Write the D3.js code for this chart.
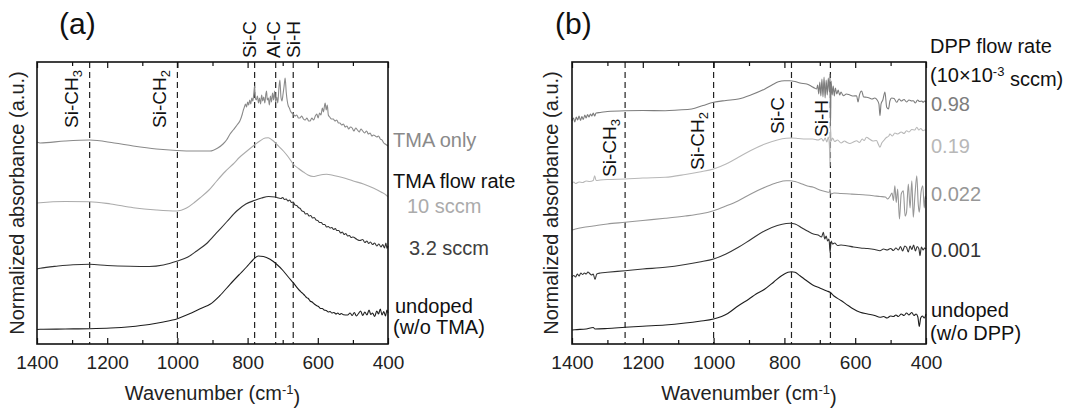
<!DOCTYPE html>
<html>
<head>
<meta charset="utf-8">
<script src="https://cdn.jsdelivr.net/npm/d3@7"></script>
<style>
  html, body { margin: 0; padding: 0; background: #fff; }
  svg { display: block; }
</style>
</head>
<body>
<svg id="chart" width="1072" height="410"></svg>
<script>
// ---------------- DATA ----------------
// x ticks (wavenumber, cm-1)
const majorTicks = [1400, 1200, 1000, 800, 600, 400];
const minorTicks = [1300, 1100, 900, 700, 500];

// vibration-mode marker positions (cm-1)
const markersA = [
  { name: "Si-CH", sub: "3", wn: 1250 },
  { name: "Si-CH", sub: "2", wn: 1000 },
  { name: "Si-C", sub: "", wn: 780 },
  { name: "Al-C", sub: "", wn: 720 },
  { name: "Si-H", sub: "", wn: 670 }
];
const markersB = [
  { name: "Si-CH", sub: "3", wn: 1250 },
  { name: "Si-CH", sub: "2", wn: 1000 },
  { name: "Si-C", sub: "", wn: 780 },
  { name: "Si-H", sub: "", wn: 670 }
];

// Panel (a) spectra: [wavenumber, normalized absorbance (a.u., offset)]
const aTmaOnly = [[1400,202],[1391,201],[1320,203],[1250,204],[1180,201],[1126,198],[1060,195],[1002,193.5],[950,193],[907,193],[885,196],[870,200],[860,204],[850,210],[841,214],[830,219],[822,223],[815,230],[812,234],
[810,236],[806,240],[803,237],[800,242],[797,239],[794,244],[791,240],[788,246],[785,243],[782,252],[780,258],[778,246],[775,244],[772,248],[769,241],[766,246],[763,240],[760,249],[757,243],[754,247],[751,241],[748,250],[746,253],[744,244],[741,246],[738,239],[735,248],[732,242],[729,251],[726,244],[723,253],[720,242],[717,247],[714,241],[711,255],[708,264],[705,247],[702,243],[699,250],[696,258],[693,266],[690,252],[687,243],[684,238],[681,236],[678,233],[674,231],[670,230],[665,228],[660,229],[655,226],[651,226],[646,228],[641,225],[636,224],[631,226],[626,223],[622,223],[617,226],[612,224],[607,228],[603,230],[599,226],[595,231],[591,229],[587,236],[584,232],[581,238],[579,241],[576,234],[573,239],[570,229],[566,227],[561,225],[556,225],[551,223],[546,224],[541,221],[537,221],[532,219],[527,220],[522,217],[517,218],[512,215],[507,217],[502,216],[497,213],[492,216],[487,214],[482,212],[477,215],[472,213],[467,211],[461,213],[456,210],[451,211],[446,208],[441,209],[436,208],[432,207],[427,208],[422,205],[417,204],[412,201],[408,200],[404,199],[400,198]];

const a10sccm = [[1400,141],[1391,141.3],[1320,142.5],[1250,142.3],[1190,140],[1126,136.3],[1060,134],[1002,133],[974,136],[950,142],[936,146],[910,154],[888,163],[865,172],[841,180],[822,187],[812,190],[800,193.5],[784,198],[765,203],[750,206],[741,206.3],[730,204],[715,199],[698,193],[684,187],[670,180],[655,175.5],[641,172],[628,169],[613,167.5],[600,168.5],[585,169.5],[575,169.7],[555,168.5],[530,166.5],[499,163],[470,160],[442,156],[420,152],[404,148.5],[400,147]];

const a32sccm = [[1400,75],[1391,75.7],[1340,78],[1297,79.3],[1250,79.7],[1200,78.5],[1135,77.7],[1080,77.5],[1040,79],[1000,83],[970,87],[945,93],[915,101],[888,111.3],[860,122],[831,133],[805,140],[779,143.7],[760,146],[740,147.5],[722,147],[705,145.5],[700,146.5],[695,144.5],[690,145],[685,143],[680,144],[675,141.5],[670,142],[665,139],[660,138.5],[655,136.5],[650,135.5],[645,133],[640,132.5],[635,130],[630,130.5],[625,128],[620,128.5],[615,126],[610,126.5],[605,124],[600,123.5],[595,121.5],[590,121.5],[585,119.5],[580,119.5],[575,117],[570,117.5],[565,116],[560,116.5],[555,114.5],[550,115.5],[546,113.5],[540,113.5],[535,111],[530,112],[525,109.5],[520,110.5],[515,108],[510,108.5],[505,106.5],[500,107],[489,104.7],[480,103.5],[472,104.5],[466,101.5],[460,103],[455,100.5],[450,102],[444,99.5],[438,101],[432,98],[426,100],[420,97],[415,99.5],[410,96],[406,101],[403,95.5],[400,98]];

const aUndoped = [[1400,14.5],[1391,14.7],[1320,15],[1250,15.3],[1190,16],[1135,17.3],[1080,19.5],[1040,22],[1000,25.3],[960,31],[930,36],[907,39.7],[880,48],[850,59.7],[825,69],[803,77],[785,84],[770,88],[755,87.5],[736,84.7],[718,80],[698,73],[684,67],[670,61.3],[652,53.5],[646,51.5],[640,49.5],[636,48],[632,46.3],[627,45.5],[622,43],[616,42],[610,40],[604,38.5],[598,37.5],[592,35.5],[587,35.5],[582,34],[576,33.5],[570,32],[565,32.5],[560,31],[554,31.5],[548,30],[543,31],[538,29.5],[533,30.5],[527,29.2],[515,29],[508,31],[502,28.5],[496,31.5],[490,28],[484,30.5],[478,33],[472,28.5],[466,32],[460,29],[454,34],[449,29.5],[444,31],[438,27.5],[432,33],[427,30],[422,35],[417,29],[412,32.5],[407,28],[403,34],[400,31]];

// Panel (b) spectra
const bUndoped = [[1400,14],[1392,14.3],[1360,15],[1340,16.5],[1335,15],[1300,15.5],[1250,16.7],[1200,17.8],[1137,19],[1080,21],[1040,22.8],[1000,25],[960,30.5],[930,38.3],[900,45],[880,50],[855,55],[830,62],[808,68.3],[790,71.7],[780,72.3],[770,71.7],[756,68.3],[740,64],[720,59],[700,56],[680,53],[671,51.7],[660,48],[640,43.5],[620,38.5],[605,35],[586,31.7],[565,30],[545,28.5],[530,26.7],[520,27.5],[510,26],[500,28],[492,27.5],[485,29],[478,27.5],[470,30],[462,28.5],[455,31],[448,29],[445,30],[440,31.5],[434,28.5],[428,30],[423,27],[419,17.5],[415,26],[410,28],[405,26],[400,30]];

const b0001 = [[1400,67],[1395,68.5],[1390,67],[1385,70],[1380,68],[1375,71],[1370,69.5],[1365,71],[1360,70],[1355,72],[1350,70.5],[1345,69],[1340,70],[1335,64.5],[1330,70],[1320,71],[1300,71.7],[1250,73.3],[1200,75],[1137,76.7],[1080,79.5],[1040,82],[1000,85],[965,90],[930,96.7],[895,104.5],[855,113.3],[820,118.5],[795,120.5],[784,120.7],[770,120],[750,116],[735,113],[718,110],[705,109],[695,107],[690,111.7],[686,105],[682,108],[678,103],[674,105],[671,91.7],[668,103],[664,100],[658,101],[650,98.5],[640,99],[624,98.3],[605,97],[585,96],[565,95.5],[545,94.5],[530,93.3],[520,95],[510,94],[500,95.5],[492,93.5],[485,96],[478,94],[472,97.5],[466,93],[460,98],[455,96.7],[450,92],[445,98],[440,94.5],[435,99],[430,93],[425,97.5],[420,95],[417,88.3],[413,97],[408,94],[404,96],[400,95]];

const b0022 = [[1400,114],[1390,115],[1370,116.5],[1340,118],[1300,120],[1250,121.7],[1200,123.5],[1137,125.7],[1080,128],[1040,130],[1000,133.3],[965,138],[930,143.3],[895,150],[855,156.7],[820,161.5],[795,163.3],[784,163.3],[770,162.5],[750,160],[735,158],[718,156.7],[700,154],[685,152.5],[673,151.7],[671,155],[669,150],[660,151],[640,150.5],[614,150],[590,149.5],[570,149],[549,148.3],[530,147.5],[515,147],[508,145],[502,147.5],[496,151],[492,143.5],[488,158.3],[484,141.5],[480,155],[475,125],[470,150],[464,153.3],[459,128],[455,131.7],[450,160],[445,136],[440,163.3],[436,126.7],[431,150],[426,168.3],[422,140],[419,131.7],[414,152],[409,158.3],[405,136],[402,148],[400,145]];

const b019 = [[1400,160.5],[1395,162],[1390,160.5],[1380,162],[1370,161.5],[1360,163],[1350,162.5],[1340,163.5],[1336,168.3],[1332,163.5],[1320,164],[1300,164.5],[1250,165],[1200,166],[1137,166.7],[1080,169.5],[1040,172],[1000,175],[965,180],[930,186.7],[895,193.5],[855,200],[820,204],[795,205.7],[780,206],[760,205.5],[740,205],[720,205],[705,204],[695,205.5],[690,203],[685,206],[680,202],[676,207],[673,199],[671,178],[670,218],[668,203],[664,206],[658,202.5],[650,204],[640,201],[630,203],[624,201.7],[615,200.5],[605,202],[596,203.3],[588,201.5],[580,205],[575,203.5],[568,206.7],[560,205],[550,203],[540,203.5],[535,200],[530,196.7],[525,201],[518,204],[512,206.5],[505,208],[502,210],[495,208],[488,211],[480,210],[470,212],[462,210.5],[455,213.3],[448,212],[440,214.5],[432,214],[426,216.7],[420,214],[415,215.5],[408,213.3],[404,214],[400,214]];

const b098 = [[1400,223],[1396,226],[1392,222],[1388,227],[1384,224],[1380,228],[1376,223.5],[1372,227.5],[1368,224.5],[1364,229],[1360,226],[1356,229.5],[1352,227],[1348,230],[1344,228],[1340,231],[1336,228],[1332,231],[1320,231.5],[1300,232.5],[1250,233.3],[1200,233.5],[1137,233.3],[1100,234],[1062,235],[1030,238.5],[1000,241.7],[965,243.5],[930,245],[895,249],[855,255],[835,259],[817,262.3],[800,263.3],[785,263.3],[770,262.5],[756,261],[737,260],[725,258],[715,256],[709,255],[706,259],[703,250],[700,262],[697,248],[694,265],[691,247],[688,267],[685,246],[682,264],[679,249],[676,266],[673,252],[671,270],[670,215],[668,263],[665,249],[662,258],[659,248],[656,256],[652,250],[648,254],[644,249],[640,252],[636,249.5],[633,248.3],[625,250],[615,249],[605,248],[596,248.3],[592,242],[588,249],[582,253],[576,247],[568,246.7],[560,246],[552,245],[545,246],[538,244],[533,240],[530,228.3],[527,240],[522,244],[516,252],[511,236.7],[506,235],[502,243],[497,246],[490,245.5],[483,241.7],[476,245],[470,243],[462,244.5],[455,242],[448,244],[440,243],[436,243.3],[430,241],[424,244],[418,242.5],[412,243],[408,241.7],[404,243],[400,241.7]];

const seriesA = [
  { data: aTmaOnly, color: "#8a8a8a" },
  { data: a10sccm,  color: "#ababab" },
  { data: a32sccm,  color: "#333333" },
  { data: aUndoped, color: "#1e1e1e" }
];
const seriesB = [
  { data: b098,     color: "#7d7d7d" },
  { data: b019,     color: "#b8b8b8" },
  { data: b0022,    color: "#979797" },
  { data: b0001,    color: "#333333" },
  { data: bUndoped, color: "#1e1e1e" }
];
const labelsA = [
  { text: "TMA only",      color: "#8a8a8a", dx: 5,  y: 147 },
  { text: "TMA flow rate", color: "#111111", dx: 5,  y: 188 },
  { text: "10 sccm",       color: "#ababab", dx: 19, y: 213 },
  { text: "3.2 sccm",      color: "#404040", dx: 21, y: 255 },
  { text: "undoped",       color: "#111111", dx: 7,  y: 313 },
  { text: "(w/o TMA)",     color: "#111111", dx: 5,  y: 334 }
];
const labelsB = [
  { text: "DPP flow rate", color: "#111111", dx: 4, y: 53 },
  { text: "(10×10", sup: "-3", rest: " sccm)", color: "#111111", dx: 4, y: 82 },
  { text: "0.98",          color: "#7d7d7d", dx: 5, y: 111 },
  { text: "0.19",          color: "#b8b8b8", dx: 5, y: 153 },
  { text: "0.022",         color: "#979797", dx: 5, y: 201 },
  { text: "0.001",         color: "#333333", dx: 5, y: 257 },
  { text: "undoped",       color: "#111111", dx: 5, y: 317 },
  { text: "(w/o DPP)",     color: "#111111", dx: 4, y: 340 }
];

// ---------------- DRAW ----------------
const FONT = "'Liberation Sans', Arial, Helvetica, sans-serif";
const svg = d3.select("#chart").style("font-family", FONT);
const plotTop = 62, plotBottom = 344;

const yScale = d3.scaleLinear().domain([0, 282]).range([plotBottom, plotTop]);

function drawPanel(opt) {
  const x = d3.scaleLinear().domain([1400, 400]).range([opt.x0, opt.x1]);
  const g = svg.append("g");

  g.selectAll("line.marker").data(opt.markers).join("line")
    .attr("class", "marker")
    .attr("x1", d => x(d.wn)).attr("x2", d => x(d.wn))
    .attr("y1", plotTop).attr("y2", plotBottom)
    .attr("stroke", "#222").attr("stroke-width", 1.2)
    .attr("stroke-dasharray", "6,4");

  const line = d3.line().x(d => x(d[0])).y(d => yScale(d[1])).curve(d3.curveMonotoneX);
  g.selectAll("path.spec").data(opt.series).join("path")
    .attr("class", "spec")
    .attr("d", d => line(d.data))
    .attr("fill", "none").attr("stroke", d => d.color).attr("stroke-width", 1.1)
    .attr("stroke-linejoin", "round");

  const bMaj = d3.axisBottom(x).tickValues(majorTicks).tickSizeInner(-6).tickSizeOuter(0).tickPadding(12).tickFormat(d3.format("d"));
  const bMin = d3.axisBottom(x).tickValues(minorTicks).tickSizeInner(-4).tickSizeOuter(0).tickFormat("");
  const tMaj = d3.axisTop(x).tickValues(majorTicks).tickSizeInner(-6).tickSizeOuter(0).tickFormat("");
  const tMin = d3.axisTop(x).tickValues(minorTicks).tickSizeInner(-4).tickSizeOuter(0).tickFormat("");
  [[bMaj, plotBottom], [bMin, plotBottom], [tMaj, plotTop], [tMin, plotTop]].forEach(([ax, yy]) => {
    const a = g.append("g").attr("transform", `translate(0,${yy})`).call(ax);
    a.select(".domain").remove();
    a.selectAll(".tick line").attr("stroke", "#111").attr("stroke-width", 1.2);
    a.selectAll(".tick text").attr("fill", "#222").style("font-size", "19px").style("font-family", FONT);
  });

  g.append("rect").attr("x", opt.x0).attr("y", plotTop)
    .attr("width", opt.x1 - opt.x0).attr("height", plotBottom - plotTop)
    .attr("fill", "none").attr("stroke", "#111").attr("stroke-width", 1.6);

  opt.markers.forEach((m, i) => {
    const p = opt.markerPos[i];
    const t = g.append("text")
      .attr("transform", `translate(${x(m.wn) + p.dx},${p.y}) rotate(-90)`)
      .attr("fill", "#111").style("font-size", "19px");
    t.append("tspan").text(m.name);
    if (m.sub) t.append("tspan").attr("dy", "0.3em").style("font-size", "13px").text(m.sub);
  });

  const xt = g.append("text").attr("x", (opt.x0 + opt.x1) / 2).attr("y", 400)
    .attr("text-anchor", "middle").attr("fill", "#222").style("font-size", "20px");
  xt.append("tspan").text("Wavenumber (cm");
  xt.append("tspan").attr("dy", "-0.5em").style("font-size", "13px").text("-1");
  xt.append("tspan").attr("dy", "0.5em").text(")");

  g.append("text")
    .attr("transform", `translate(${opt.ytx},${(plotTop + plotBottom) / 2}) rotate(-90)`)
    .attr("text-anchor", "middle").attr("fill", "#222").style("font-size", "20px")
    .text("Normalized absorbance (a.u.)");

  g.append("text").attr("x", opt.letterX).attr("y", 34)
    .attr("fill", "#111").style("font-size", "30px").text(opt.letter);

  opt.labels.forEach(l => {
    const t = g.append("text").attr("x", opt.x1 + l.dx).attr("y", l.y)
      .attr("fill", l.color).style("font-size", "20px");
    t.append("tspan").text(l.text);
    if (l.sup) {
      t.append("tspan").attr("dy", "-0.5em").style("font-size", "13px").text(l.sup);
      t.append("tspan").attr("dy", "0.5em").text(l.rest);
    }
  });
}

drawPanel({
  x0: 37, x1: 388, letter: "(a)", letterX: 59, ytx: 24,
  markers: markersA,
  markerPos: [ {dx: -11.5, y: 128}, {dx: -11, y: 128}, {dx: 1, y: 58}, {dx: 4, y: 58}, {dx: 7, y: 58} ],
  series: seriesA, labels: labelsA
});
drawPanel({
  x0: 572, x1: 926, letter: "(b)", letterX: 555, ytx: 558,
  markers: markersB,
  markerPos: [ {dx: -9, y: 177}, {dx: -10, y: 170}, {dx: -7, y: 134}, {dx: -2, y: 137} ],
  series: seriesB, labels: labelsB
});
</script>
</body>
</html>
